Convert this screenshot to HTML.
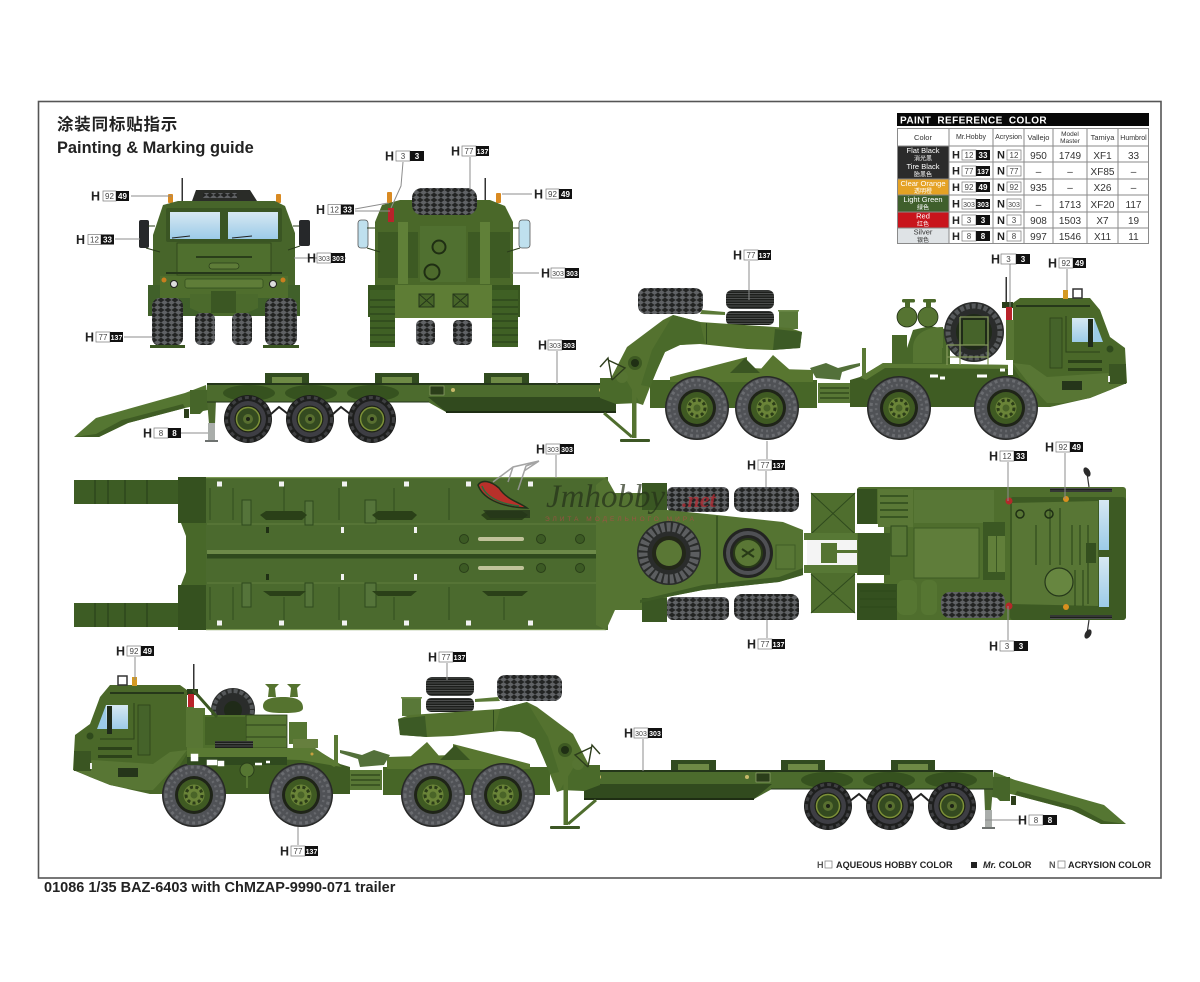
<!DOCTYPE html>
<html lang="en"><head><meta charset="utf-8"><title>BAZ-6403 Painting guide</title>
<style>
html,body{margin:0;padding:0;background:#fff}
svg{display:block;font-family:"Liberation Sans","Noto Sans CJK SC",sans-serif}
.h{font-size:12.5px;font-weight:700;fill:#222}
.w{fill:#fff;stroke:#777;stroke-width:.7}
.k{fill:#111}
.nw{font-size:8px;fill:#444;text-anchor:middle}
.nk{font-size:8px;font-weight:700;fill:#fff;text-anchor:middle}
.ld{stroke:#8c8c8c;stroke-width:1;fill:none}
.th{font-size:7.5px;fill:#333;text-anchor:middle}
.td{font-size:10px;fill:#333;text-anchor:middle}
.tc{font-size:7.5px;text-anchor:middle;fill:#fff}
.leg{font-size:9.1px;font-weight:700;fill:#222}
</style></head><body>
<svg width="1200" height="982" viewBox="0 0 1200 982" xmlns="http://www.w3.org/2000/svg">
<defs>
<pattern id="tread" width="7" height="5" patternUnits="userSpaceOnUse"><rect width="7" height="5" fill="#232423"/><path d="M0 2.5 3.5 0 7 2.5 3.5 5Z" fill="#606265"/></pattern>
<pattern id="tr2" width="5" height="5" patternUnits="userSpaceOnUse"><rect width="5" height="5" fill="#1d1f1c"/><path d="M0 1h5M0 3.5h5" stroke="#4d4f4e" stroke-width=".9"/></pattern>
<linearGradient id="gl" x1="0" y1="0" x2="0" y2="1"><stop offset="0" stop-color="#d6e8f2"/><stop offset="1" stop-color="#9ccbe8"/></linearGradient>
<g id="wL">
<circle r="32" fill="#282928"/>
<circle r="30.500" fill="#505256"/>
<circle r="28" fill="none" stroke="#6a6c70" stroke-width="3" stroke-dasharray="3 3"/>
<circle r="23" fill="none" stroke="#66686c" stroke-width="2.500" stroke-dasharray="2 3"/>
<circle r="19" fill="#1f2418"/>
<circle r="16" fill="#3f5a22"/>
<circle r="10.500" fill="#6a8438"/>
<circle r="8" fill="none" stroke="#2c3d18" stroke-width="3" stroke-dasharray="3 2.500"/>
<circle r="3.500" fill="#4a6428"/>
</g>
<g id="wS">
<circle r="24" fill="#1e1f1e"/>
<circle r="21.500" fill="none" stroke="#3f4042" stroke-width="3" stroke-dasharray="4 3"/>
<circle r="18" fill="#3e3e44"/>
<circle r="13.500" fill="#1d2216"/>
<circle r="11.500" fill="#344a20" stroke="#7d9138" stroke-width="1.500"/>
<circle r="5" fill="#586f30"/>
<circle r="2" fill="#1d2216"/>
</g>
<g id="rig">
<!-- trailer -->
<path d="M74 437 96 418 185 393 206 385 208 403 185 408 128 423 99 437Z" fill="#557632"/>
<path d="M74 437 99 437 128 423 185 408 183 404 122 420 96 434Z" fill="#3f5c24"/>
<path d="M190 390h18v20l-5 1-3 3h-10Z" fill="#466529"/>
<path d="M184 409h5v9h-5Z" fill="#2d3f1b"/>
<path d="M207 400h9l-1 24h-6Z" fill="#4d6a2f"/>
<rect x="208" y="423" width="7" height="17" fill="#a9adaa"/>
<rect x="205" y="440" width="13" height="2" fill="#6e7270"/>
<path d="M207 384H616V412H446L428 402H207Z" fill="#4c6b2d"/>
<rect x="207" y="383" width="409" height="2" fill="#24361a"/>
<rect x="207" y="401.500" width="222" height="1" fill="#22331a"/>
<path d="M428 397H616V412H446Z" fill="#314a1e"/>
<path d="M446 411H616V413H446Z" fill="#1e2d13"/>
<rect x="265" y="373" width="44" height="10" fill="#314b1f"/><rect x="375" y="373" width="44" height="10" fill="#314b1f"/><rect x="484" y="373" width="45" height="10" fill="#314b1f"/>
<g fill="#6e8a45"><rect x="272" y="377" width="30" height="6"/><rect x="382" y="377" width="30" height="6"/><rect x="491" y="377" width="31" height="6"/></g>
<g fill="#36521f"><ellipse cx="249" cy="393" rx="26" ry="8"/><ellipse cx="311" cy="393" rx="26" ry="8"/><ellipse cx="373" cy="393" rx="26" ry="8"/></g>
<path d="M271 414 279 407 288 414M333 414 341 407 350 414" fill="none" stroke="#222" stroke-width="2"/>
<rect x="430" y="386" width="14" height="9" fill="#2b3e1a" stroke="#9fb07a" stroke-width=".6"/>
<circle cx="453" cy="390" r="2" fill="#c8b96a"/><circle cx="601" cy="390" r="2" fill="#c8b96a"/>
<use href="#wS" x="248" y="419"/><use href="#wS" x="310" y="419"/><use href="#wS" x="372" y="419"/>
<!-- tractor chassis -->
<rect x="650" y="380" width="167" height="28" fill="#476627"/>
<path d="M670 377 747 357 747 368 813 370 813 382 670 382Z" fill="#587630"/>
<path d="M730 373 745 358 760 373Z" fill="#3a5522"/>
<rect x="818" y="383" width="32" height="20" fill="#587735"/>
<path d="M820 388h29M820 393h29M820 398h29" stroke="#2c4219" stroke-width="1.200"/>
<path d="M850 380 860 377 883 363 1013 365 1040 375 1060 396 1050 407H850Z" fill="#3f5c23"/>
<path d="M860 377 883 363 1013 365V369L885 368 866 380Z" fill="#5a7933"/>
<!-- cab -->
<path d="M1013 303 1020 298H1090L1100 310 1110 337 1125 348 1127 383 1110 390 1090 398 1050 407 1037 407 1020 378 1013 367Z" fill="#4a6829"/>
<path d="M1013 363 1030 365 1047 377 1108 373 1125 383 1110 390 1090 398 1063 403 1047 403 1030 385Z" fill="#587634"/>
<rect x="1016" y="305" width="74" height="2" fill="#26381a"/>
<rect x="1072" y="318" width="22" height="24" fill="url(#gl)"/><path d="M1094 318 1103 342H1094Z" fill="#9ccbe8"/>
<rect x="1088" y="319" width="5" height="28" fill="#1f2a1a"/>
<rect x="1050" y="318" width="12" height="50" fill="#45632a" stroke="#2c4219" stroke-width=".8"/>
<path d="M1066 316V352H1100" fill="none" stroke="#2c4219" stroke-width="1"/>
<rect x="1068" y="360" width="34" height="3" fill="#2c4219"/>
<rect x="1068" y="368" width="34" height="3" fill="#2c4219"/>
<rect x="1062" y="381" width="20" height="9" fill="#25351a"/>
<rect x="1109" y="364" width="17" height="20" fill="#3a5522"/>
<circle cx="1110" cy="349" r="3.500" fill="#2f4a1c"/>
<rect x="1108" y="376" width="2" height="6" fill="#eee"/>
<rect x="1063" y="290" width="5" height="9" fill="#d49a22"/>
<rect x="1073" y="289" width="9" height="9" fill="none" stroke="#333" stroke-width="1.500"/>
<rect x="1005.500" y="277" width="1.500" height="26" fill="#333"/>
<rect x="1002" y="302" width="11" height="6" fill="#2a3e1a"/>
<rect x="1006" y="307" width="6" height="13" fill="#b9232a"/>
<rect x="1006" y="320" width="8" height="40" fill="#587634"/>
<rect x="1008" y="360" width="5" height="15" fill="#fff"/>
<!-- gooseneck -->
<path d="M773 355 790 370H760Z" fill="#587630"/>
<path d="M810 368 826 363 838 368 850 365 860 363V366L842 372 840 380 816 378Z" fill="#53703a"/>
<path d="M862 348h4v30h-4Z" fill="#5a7935"/>
<use href="#wL" x="697" y="408"/><use href="#wL" x="767" y="408"/><use href="#wL" x="899" y="408"/><use href="#wL" x="1006" y="408"/>
<rect x="638" y="288" width="65" height="26" rx="8" fill="url(#tread)"/>
<rect x="726" y="290" width="48" height="19" rx="6" fill="url(#tr2)"/>
<rect x="726" y="311" width="48" height="14" rx="5" fill="url(#tr2)"/>
<rect x="779" y="310" width="19" height="19" fill="#597838"/>
<rect x="778" y="310" width="21" height="1.500" fill="#6f8b4b"/>
<path d="M702 310 725 312V315L700 314Z" fill="#5b7a37"/>
<path d="M610 380 627 347 643 335 663 320 673 315 700 322 790 328 802 332 800 348 773 350 747 349 700 344 680 345 665 352 657 370 650 387 643 405 637 403 617 392Z" fill="#54722f"/>
<path d="M775 329 802 332 800 348 773 350Z" fill="#3c5a25"/>
<path d="M673 315 700 322 705 343 680 345 665 352 657 370 650 387 641 385 652 350Z" fill="#4a6a2a"/>
<rect x="706" y="323" width="1" height="21" fill="#2f4a1c"/>
<path d="M600 378H625L640 403 616 404 600 398Z" fill="#4a6a2a"/>
<circle cx="635" cy="363" r="7" fill="#3d5922"/><circle cx="635" cy="363" r="4" fill="#1f2f14"/>
<circle cx="622" cy="377" r="6" fill="#567432"/>
<path d="M600 367 608 358 612 380M608 360 625 368 612 380" fill="none" stroke="#2d3d1c" stroke-width="1.400"/>
<rect x="632" y="373" width="4.500" height="65" fill="#54722f"/>
<path d="M604 413 632 437" stroke="#4f6d2e" stroke-width="3"/>
<rect x="620" y="439" width="30" height="3" rx="1" fill="#3c5624"/>
</g>
</defs>
<rect width="1200" height="982" fill="#fff"/>
<rect x="38.500" y="101.500" width="1122.500" height="776.500" fill="#fff" stroke="#555" stroke-width="1.600"/>
<text x="57" y="130" font-size="16.500" font-weight="700" fill="#222" letter-spacing=".8">涂装同标贴指示</text>
<text x="57" y="153" font-size="16.400" font-weight="700" fill="#222">Painting &amp; Marking guide</text>
<text x="44" y="892" font-size="14.500" font-weight="700" fill="#222">01086 1/35 BAZ-6403 with ChMZAP-9990-071 trailer</text>

<!-- FRONT VIEW -->
<rect x="181.500" y="178" width="1.500" height="24" fill="#333"/>
<path d="M192 201 196 190H250L257 201Z" fill="#2a2c28"/><rect x="203" y="193" width="34" height="5" fill="url(#tread)"/>
<rect x="168" y="194" width="5" height="9" rx="1" fill="#d98a22"/><rect x="276" y="194" width="5" height="9" rx="1" fill="#d98a22"/>
<path d="M163 205 178 201H275L285 206 295 233V285H153V235Z" fill="#47652a"/>
<rect x="166" y="208" width="116" height="34" rx="2" fill="#3a5523"/>
<rect x="170" y="212" width="50" height="27" fill="url(#gl)"/><rect x="228" y="212" width="50" height="27" fill="url(#gl)"/>
<path d="M172 238 190 236M232 238 252 236" stroke="#222" stroke-width="1"/>
<rect x="177" y="243" width="94" height="32" fill="#4f6f2e" stroke="#2c4219" stroke-width=".8"/>
<rect x="196" y="256" width="56" height="2" fill="#2a3e1a"/>
<rect x="209" y="263" width="30" height="6" rx="3" fill="#5e7c38" stroke="#2a3e1a" stroke-width=".7"/>
<rect x="166" y="272" width="116" height="2" fill="#25371a"/>
<rect x="148" y="285" width="152" height="31" fill="#40602a"/>
<rect x="160" y="276" width="128" height="22" fill="#4f6e2d"/>
<rect x="185" y="279" width="78" height="9" rx="2" fill="#5f7d38" stroke="#2f4a1c" stroke-width=".7"/>
<circle cx="174" cy="284" r="3.500" fill="#ddd" stroke="#222"/><circle cx="273" cy="284" r="3.500" fill="#ddd" stroke="#222"/>
<circle cx="164" cy="280" r="2.500" fill="#c97e1f"/><circle cx="283" cy="280" r="2.500" fill="#c97e1f"/>
<path d="M190 294H258V308L240 316H208L190 308Z" fill="#4b6a2c"/>
<rect x="211" y="291" width="25" height="22" fill="#3b5723"/>
<rect x="195" y="313" width="20" height="32" rx="6" fill="url(#tread)"/><rect x="232" y="313" width="20" height="32" rx="6" fill="url(#tread)"/>
<rect x="152" y="298" width="31" height="48" rx="8" fill="url(#tread)"/><rect x="265" y="298" width="32" height="48" rx="8" fill="url(#tread)"/>
<rect x="150" y="345" width="35" height="3" fill="#3a5522"/><rect x="263" y="345" width="36" height="3" fill="#3a5522"/>
<rect x="139" y="220" width="10" height="28" rx="2" fill="#26282a"/><rect x="299" y="220" width="11" height="26" rx="2" fill="#26282a"/>
<path d="M148 226H155M293 226H299M146 248 160 252M300 246 288 250" stroke="#2b3d1b" stroke-width="1"/>

<!-- REAR VIEW -->
<rect x="484.500" y="178" width="1.500" height="24" fill="#333"/>
<rect x="387" y="192" width="5" height="11" rx="1" fill="#d98a22"/><rect x="496" y="193" width="5" height="10" rx="1" fill="#d98a22"/>
<path d="M382 205 400 200H490L505 206 513 222V286H375V222Z" fill="#4a6829"/>
<rect x="412" y="188" width="65" height="27" rx="10" fill="url(#tread)"/>
<rect x="388" y="208" width="6" height="14" fill="#b9232a"/>
<rect x="378" y="232" width="40" height="46" fill="#3d5a23"/><rect x="468" y="232" width="42" height="46" fill="#3d5a23"/>
<rect x="398" y="222" width="10" height="62" fill="#608038"/><rect x="480" y="222" width="10" height="62" fill="#608038"/>
<rect x="420" y="226" width="46" height="56" fill="#507030"/>
<circle cx="439" cy="247" r="6.500" fill="#4d6a2c" stroke="#1f2e13" stroke-width="2"/>
<circle cx="432" cy="272" r="7.500" fill="#4d6a2c" stroke="#1f2e13" stroke-width="2"/>
<rect x="416" y="320" width="19" height="25" rx="5" fill="url(#tread)"/><rect x="453" y="320" width="19" height="25" rx="5" fill="url(#tread)"/>
<rect x="395" y="285" width="97" height="33" fill="#5e7d35"/>
<rect x="419" y="294" width="15" height="13" fill="#486629" stroke="#25371a"/><rect x="453" y="294" width="15" height="13" fill="#486629" stroke="#25371a"/>
<path d="M419 294 434 307M434 294 419 307M453 294 468 307M468 294 453 307" stroke="#25371a"/>
<rect x="368" y="285" width="27" height="32" fill="#37551f"/><rect x="492" y="285" width="28" height="32" fill="#37551f"/>
<rect x="370" y="290" width="25" height="57" fill="#3f6024"/><rect x="492" y="290" width="26" height="57" fill="#3f6024"/>
<path d="M370 300h25M370 307h25M370 314h25M370 321h25M370 328h25M370 335h25M370 342h25M492 300h26M492 307h26M492 314h26M492 321h26M492 328h26M492 335h26M492 342h26" stroke="#2b441a" stroke-width="1.200"/>
<rect x="358" y="220" width="10" height="28" rx="3" fill="#bfe0ee" stroke="#555" stroke-width=".8"/><rect x="519" y="220" width="11" height="28" rx="3" fill="#bfe0ee" stroke="#555" stroke-width=".8"/>
<path d="M367 228H375M513 228H519M367 248 380 252M520 248 507 252" stroke="#2b3d1b" stroke-width="1"/>

<!-- SIDE 1 -->
<use href="#rig"/>
<path d="M892 335H907V348L913 330 930 326 950 330V364H892Z" fill="#486729"/>
<path d="M913 348C913 335 925 327 943 327V348Z" fill="#567532"/>
<rect x="913" y="348" width="29" height="15" fill="#567532"/>
<circle cx="907" cy="317" r="10" fill="#567432" stroke="#1f2e13" stroke-width=".8"/><circle cx="928" cy="317" r="10" fill="#567432" stroke="#1f2e13" stroke-width=".8"/>
<rect x="902" y="299" width="13" height="3.500" rx="1.500" fill="#4a6829"/><rect x="923" y="299" width="13" height="3.500" rx="1.500" fill="#4a6829"/>
<rect x="905" y="302" width="5" height="6" fill="#4a6829"/><rect x="926" y="302" width="5" height="6" fill="#4a6829"/>
<circle cx="974" cy="332" r="30" fill="#2a2c2b"/><circle cx="974" cy="332" r="26" fill="none" stroke="#55585a" stroke-width="5" stroke-dasharray="4 2"/><circle cx="974" cy="332" r="18" fill="#1f2a18"/>
<rect x="963" y="320" width="22" height="25" fill="#46632a"/>
<path d="M960 317H988V365M960 317V365M947 345H988M947 345V365M947 357H988" fill="none" stroke="#83985a" stroke-width="1.300"/>
<path d="M930 376h8M940 378h5M977 376h10M1000 370h5" stroke="#fff" stroke-width="3"/>

<!-- SIDE 2 -->
<use href="#rig" transform="translate(1200,387) scale(-1,1)"/>
<circle cx="233" cy="710" r="22" fill="#2a2c2b"/><circle cx="233" cy="710" r="19" fill="none" stroke="#55585a" stroke-width="4" stroke-dasharray="4 2"/><circle cx="233" cy="710" r="9" fill="#1f2a18"/>
<path d="M263 706C263 699 272 697 283 697 296 697 303 700 303 708 303 712 296 713 284 713 270 713 263 712 263 706Z" fill="#55732f"/>
<path d="M265 684H279L275 688 276 697H268L269 688ZM287 684H301L297 688 298 697H290L291 688Z" fill="#55732f"/>
<rect x="187" y="708" width="18" height="40" fill="#587634"/>
<rect x="203" y="715" width="84" height="33" fill="#4f6f2c"/>
<path d="M205 717H245V745H205Z" fill="#436125"/>
<rect x="246" y="715" width="41" height="33" fill="#567632" stroke="#2c4219" stroke-width=".8"/>
<path d="M246 725h40M246 737h40" stroke="#2c4219"/>
<rect x="215" y="741" width="38" height="7" fill="url(#tr2)"/>
<rect x="289" y="722" width="18" height="22" fill="#567632"/>
<rect x="293" y="739" width="25" height="9" fill="#667f3e"/>
<path d="M193 690 217 717" stroke="#3b5722" stroke-width="3"/>
<path d="M187 748H315L342 767 300 760 187 757Z" fill="#5a7933"/>
<rect x="187" y="757" width="100" height="8" fill="#2f491e"/>
<path d="M192 755h5v5h-5ZM208 761h8v3h-8ZM219 762h4v3h-4ZM255 764h7M266 762h4" stroke="#fff" stroke-width="2.500" fill="#fff"/>
<circle cx="247" cy="770" r="7" fill="#567632" stroke="#2a3e1a"/><rect x="246" y="776" width="2" height="12" fill="#567632"/>
<circle cx="312" cy="754" r="1.500" fill="#c8a040"/>

<!-- TOP VIEW -->
<rect x="667" y="487" width="62" height="25" rx="6" fill="url(#tread)"/><rect x="734" y="487" width="65" height="25" rx="8" fill="url(#tread)"/>
<rect x="667" y="597" width="62" height="23" rx="6" fill="url(#tread)"/><rect x="734" y="594" width="65" height="26" rx="8" fill="url(#tread)"/>
<rect x="74" y="480" width="104" height="24" fill="#3d5c24"/><rect x="74" y="603" width="104" height="24" fill="#3d5c24"/>
<path d="M95 480v24M108 480v24M125 480v24M147 480v24M95 603v24M108 603v24M125 603v24M147 603v24" stroke="#2a421a" stroke-width="1.200"/>
<path d="M178 477H206V523H178ZM178 585H206V630H178Z" fill="#35511f"/>
<path d="M181 523H206V585H181L186 572V536Z" fill="#486829"/>
<rect x="206" y="477" width="402" height="153" fill="#4b6a2e"/>
<rect x="206" y="477" width="400" height="1.200" fill="#7c9a55"/><rect x="206" y="629" width="400" height="1.200" fill="#7c9a55"/>
<rect x="207" y="550" width="400" height="4" fill="#6d8a49"/><rect x="207" y="554" width="400" height="4.500" fill="#2f4a1d"/>
<path d="M207 524H606M207 583H606" stroke="#607f3d" stroke-width="1"/>
<path d="M210 488V520M233 488V520M339 488V520M449 488V520M210 587V620M233 587V620M339 587V620M449 587V620M284 486V516M394 488V516M284 597V620M394 597V620M504 597V620" stroke="#2f4a1d" stroke-width=".9"/>
<g fill="#55743a" stroke="#2f4a1d"><rect x="242" y="500" width="9" height="25"/><rect x="305" y="501" width="8" height="24"/><rect x="365" y="500" width="11" height="23"/><rect x="242" y="583" width="9" height="24"/><rect x="305" y="583" width="8" height="24"/><rect x="365" y="583" width="11" height="24"/></g>
<g fill="#2a4018"><path d="M260 515 266 511H302L307 515 302 520H266Z"/><path d="M372 515 378 511H412L417 515 412 520H378Z"/><path d="M481 515 487 511H522L528 515 522 520H487Z"/><path d="M263 591H306L300 596H270Z"/><path d="M372 591H417L411 596H378Z"/><path d="M482 591H528L522 596H488Z"/></g>
<g fill="#c0c29a"><rect x="478" y="537" width="46" height="4" rx="2"/><rect x="478" y="566" width="46" height="4" rx="2"/></g>
<g fill="#3c5a24" stroke="#2a3f19"><circle cx="464" cy="539" r="4.500"/><circle cx="541" cy="539" r="4.500"/><circle cx="580" cy="539" r="4.500"/><circle cx="464" cy="568" r="4.500"/><circle cx="541" cy="568" r="4.500"/><circle cx="580" cy="568" r="4.500"/></g>
<g fill="#f2f2f2"><rect x="217" y="481.500" width="5" height="5"/><rect x="279" y="481.500" width="5" height="5"/><rect x="342" y="481.500" width="5" height="5"/><rect x="404" y="481.500" width="5" height="5"/><rect x="466" y="481.500" width="5" height="5"/><rect x="528" y="481.500" width="5" height="5"/><rect x="217" y="620.500" width="5" height="5"/><rect x="279" y="620.500" width="5" height="5"/><rect x="342" y="620.500" width="5" height="5"/><rect x="404" y="620.500" width="5" height="5"/><rect x="466" y="620.500" width="5" height="5"/><rect x="528" y="620.500" width="5" height="5"/><rect x="341" y="527" width="3" height="6"/><rect x="414" y="527" width="3" height="6"/><rect x="341" y="574" width="3" height="6"/><rect x="414" y="574" width="3" height="6"/></g>
<rect x="266" y="527" width="3" height="6" fill="#1f2f14"/><rect x="266" y="574" width="3" height="6" fill="#1f2f14"/>
<path d="M606 477 615 493H642V483H667V510L717 515 783 522 803 530V575L779 582 703 590 667 597V622H642V610H615L606 630 596 625V485Z" fill="#557432"/>
<path d="M642 483H667V510H642ZM642 598H667V622H642Z" fill="#3a5723"/>
<path d="M640 600 703 585 779 577 803 568V575L779 582 703 590 667 597 640 603Z" fill="#3e5c25"/>
<rect x="716" y="516" width="2" height="72" fill="#3a5723"/>
<circle cx="669" cy="553" r="32" fill="#2a2c2b"/><circle cx="669" cy="553" r="26" fill="none" stroke="#5c5e60" stroke-width="9" stroke-dasharray="4 2"/><circle cx="669" cy="553" r="17" fill="#232719"/><circle cx="669" cy="553" r="13" fill="#5a7735"/>
<circle cx="748" cy="553" r="25" fill="#232422"/><circle cx="748" cy="553" r="20" fill="none" stroke="#4f5054" stroke-width="4"/><circle cx="748" cy="553" r="14" fill="#5a7735" stroke="#283a17" stroke-width="2"/>
<path d="M742 549 754 557M742 557 754 549" stroke="#283a17" stroke-width="2"/>
<rect x="776" y="545" width="19" height="24" fill="#587735" stroke="#3f5c25"/>
<rect x="811" y="493" width="44" height="120" fill="#4f6e2e"/>
<path d="M811 493 855 534M855 493 811 534M811 574 855 613M855 574 811 613" stroke="#2f4a1d"/>
<rect x="804" y="533" width="60" height="7" fill="#577835"/><rect x="804" y="565" width="60" height="8" fill="#577835"/>
<rect x="807" y="540" width="62" height="25" fill="#f4f4f4"/>
<rect x="821" y="543" width="16" height="20" fill="#557432"/><rect x="835" y="550" width="35" height="3" fill="#557432"/>
<rect x="857" y="487" width="269" height="133" rx="3" fill="#4f6e2d"/>
<rect x="857" y="524" width="27" height="9" fill="#fff"/><rect x="857" y="575" width="27" height="8" fill="#fff"/>
<path d="M858 533H890V575H858Z" fill="#3d5a24"/>
<rect x="857" y="489" width="20" height="35" fill="#34501f"/><rect x="857" y="584" width="40" height="36" fill="#34501f"/>
<rect x="878" y="489" width="35" height="38" fill="#5a7836"/>
<path d="M880 496h28M880 503h28M880 510h28M880 517h28M860 591h36M860 599h36M860 607h36" stroke="#2e4a1c" stroke-width="1.500"/>
<rect x="914" y="490" width="80" height="33" fill="#587736"/>
<rect x="891" y="526" width="16" height="30" fill="#587736" stroke="#2e4a1c"/>
<rect x="914" y="528" width="65" height="50" fill="#5f7d3a" stroke="#3d5a24"/>
<rect x="983" y="522" width="22" height="58" fill="#3b5823"/>
<rect x="988" y="536" width="8" height="36" fill="#617f3a"/><rect x="997" y="536" width="8" height="36" fill="#617f3a"/>
<rect x="897" y="580" width="20" height="35" rx="7" fill="#567632"/><rect x="921" y="580" width="16" height="35" rx="6" fill="#567632"/>
<rect x="941" y="592" width="64" height="26" rx="9" fill="url(#tread)"/>
<rect x="1010" y="497" width="116" height="123" rx="3" fill="#3d5a23"/>
<path d="M1012 503 1098 501V606L1012 604Z" fill="#587635"/>
<rect x="1099" y="500" width="10" height="50" fill="url(#gl)"/><rect x="1099" y="557" width="10" height="50" fill="url(#gl)"/>
<path d="M1050 508V565M1060 508V565M1072 525V565M1080 525V565M1088 525V604M1075 570V606M1083 570V606M1036 525V565" stroke="#344f1f" stroke-width="1.300"/>
<rect x="1086" y="543" width="10" height="20" fill="#344f1f"/>
<circle cx="1059" cy="582" r="14" fill="#678640" stroke="#25371a" stroke-width="1.200"/>
<circle cx="1020" cy="514" r="4" fill="none" stroke="#1f2f14" stroke-width="1.500"/><circle cx="1049" cy="514" r="4" fill="none" stroke="#1f2f14" stroke-width="1.500"/>
<rect x="1050" y="488" width="62" height="4" fill="url(#tr2)"/><rect x="1050" y="615" width="62" height="4" fill="url(#tr2)"/>
<circle cx="1009" cy="501" r="3.500" fill="#b32a2a"/><circle cx="1009" cy="606" r="3.500" fill="#b32a2a"/>
<circle cx="1066" cy="499" r="3" fill="#d9901f"/><circle cx="1066" cy="607" r="3" fill="#d9901f"/>
<path d="M1089 487 1087 473" stroke="#333" stroke-width="1.200"/><path d="M1089 620 1087 634" stroke="#333" stroke-width="1.200"/>
<ellipse cx="1087" cy="472" rx="3" ry="5" fill="#2a2a2a" transform="rotate(-30 1087 472)"/><ellipse cx="1088" cy="634" rx="3" ry="5" fill="#2a2a2a" transform="rotate(30 1088 634)"/>

<!-- WATERMARK -->
<path d="M478 485C482 497 498 507 527 508 519 502 507 500 499 488 491 481 482 479 478 485Z" fill="#b8302a" stroke="#20301a" stroke-width="1.500"/>
<path d="M482 486C486 497 500 504 519 506" fill="none" stroke="#2f6a3a" stroke-width="1.500"/>
<path d="M493 482 513 467 539 461 526 466 518 490M508 482 513 467M539 461 524 471" fill="none" stroke="#9a9a9a" stroke-width="1.500" opacity=".9"/>
<path d="M483 510H530V518H490Z" fill="#25361a" opacity=".8"/>
<text x="546" y="507" font-family="Liberation Serif,serif" font-style="italic" font-size="33" fill="#243019" opacity=".7">Jmhobby</text>
<text x="682" y="507" font-family="Liberation Serif,serif" font-style="italic" font-weight="700" font-size="22" fill="#b52a32" opacity=".75">.net</text>
<text x="545" y="521" font-size="6.500" letter-spacing="3" fill="#b8484a" opacity=".7">ЭЛИТА МОДЕЛЬНОГО МИРА</text>

<!-- LEADERS -->
<g class="ld">
<path d="M131 196H172M115 239H140M346 258H294M124 337H152"/>
<path d="M403 162 401 186 391 208M470 157V190M355 209 388 203M355 211 390 211M532 194H502M539 273H512"/>
<path d="M557 351V384M749 261V300M1010 264V307M1067 269V290M181 433H208"/>
<path d="M556 455V478M766 471V487M767 441V459M1008 462V501M1065 453V499M767 620V638M1008 606V640"/>
<path d="M135 657V680M447 663V680M643 739V771M1019 820H985M298 827V845"/>
</g>

<!-- CALLOUTS -->
<g transform="translate(91,196)"><text class="h" y="4.500">H</text><rect class="w" x="12" y="-5" width="13" height="10"/><rect class="k" x="25" y="-5" width="13" height="10"/><text class="nw" x="18.500" y="3">92</text><text class="nk" x="31.500" y="3">49</text></g>
<g transform="translate(76,239.500)"><text class="h" y="4.500">H</text><rect class="w" x="12" y="-5" width="13" height="10"/><rect class="k" x="25" y="-5" width="13" height="10"/><text class="nw" x="18.500" y="3">12</text><text class="nk" x="31.500" y="3">33</text></g>
<g transform="translate(307,258)"><text class="h" y="4.500">H</text><rect class="w" x="10" y="-5" width="14" height="10"/><rect class="k" x="24" y="-5" width="14" height="10"/><text class="nw" x="17" y="3" style="font-size:7px">303</text><text class="nk" x="31" y="3" style="font-size:7px">303</text></g>
<g transform="translate(85,337)"><text class="h" y="4.500">H</text><rect class="w" x="11" y="-5" width="14" height="10"/><rect class="k" x="25" y="-5" width="13" height="10"/><text class="nw" x="18" y="3">77</text><text class="nk" x="31.500" y="3" style="font-size:7px">137</text></g>
<g transform="translate(385,156)"><text class="h" y="4.500">H</text><rect class="w" x="11" y="-5" width="14" height="10"/><rect class="k" x="25" y="-5" width="14" height="10"/><text class="nw" x="18" y="3">3</text><text class="nk" x="32" y="3">3</text></g>
<g transform="translate(451,151)"><text class="h" y="4.500">H</text><rect class="w" x="11" y="-5" width="14" height="10"/><rect class="k" x="25" y="-5" width="13" height="10"/><text class="nw" x="18" y="3">77</text><text class="nk" x="31.500" y="3" style="font-size:7px">137</text></g>
<g transform="translate(316,209.500)"><text class="h" y="4.500">H</text><rect class="w" x="12" y="-5" width="13" height="10"/><rect class="k" x="25" y="-5" width="13" height="10"/><text class="nw" x="18.500" y="3">12</text><text class="nk" x="31.500" y="3">33</text></g>
<g transform="translate(534,194)"><text class="h" y="4.500">H</text><rect class="w" x="12" y="-5" width="13" height="10"/><rect class="k" x="25" y="-5" width="13" height="10"/><text class="nw" x="18.500" y="3">92</text><text class="nk" x="31.500" y="3">49</text></g>
<g transform="translate(541,273)"><text class="h" y="4.500">H</text><rect class="w" x="10" y="-5" width="14" height="10"/><rect class="k" x="24" y="-5" width="14" height="10"/><text class="nw" x="17" y="3" style="font-size:7px">303</text><text class="nk" x="31" y="3" style="font-size:7px">303</text></g>
<g transform="translate(538,345)"><text class="h" y="4.500">H</text><rect class="w" x="10" y="-5" width="14" height="10"/><rect class="k" x="24" y="-5" width="14" height="10"/><text class="nw" x="17" y="3" style="font-size:7px">303</text><text class="nk" x="31" y="3" style="font-size:7px">303</text></g>
<g transform="translate(733,255)"><text class="h" y="4.500">H</text><rect class="w" x="11" y="-5" width="14" height="10"/><rect class="k" x="25" y="-5" width="13" height="10"/><text class="nw" x="18" y="3">77</text><text class="nk" x="31.500" y="3" style="font-size:7px">137</text></g>
<g transform="translate(991,259)"><text class="h" y="4.500">H</text><rect class="w" x="10" y="-5" width="15" height="10"/><rect class="k" x="25" y="-5" width="14" height="10"/><text class="nw" x="17.500" y="3">3</text><text class="nk" x="32" y="3">3</text></g>
<g transform="translate(1048,263)"><text class="h" y="4.500">H</text><rect class="w" x="11" y="-5" width="14" height="10"/><rect class="k" x="25" y="-5" width="13" height="10"/><text class="nw" x="18" y="3">92</text><text class="nk" x="31.500" y="3">49</text></g>
<g transform="translate(143,433)"><text class="h" y="4.500">H</text><rect class="w" x="11" y="-5" width="14" height="10"/><rect class="k" x="25" y="-5" width="13" height="10"/><text class="nw" x="18" y="3">8</text><text class="nk" x="31.500" y="3">8</text></g>
<g transform="translate(536,449)"><text class="h" y="4.500">H</text><rect class="w" x="10" y="-5" width="14" height="10"/><rect class="k" x="24" y="-5" width="14" height="10"/><text class="nw" x="17" y="3" style="font-size:7px">303</text><text class="nk" x="31" y="3" style="font-size:7px">303</text></g>
<g transform="translate(747,465)"><text class="h" y="4.500">H</text><rect class="w" x="11" y="-5" width="14" height="10"/><rect class="k" x="25" y="-5" width="13" height="10"/><text class="nw" x="18" y="3">77</text><text class="nk" x="31.500" y="3" style="font-size:7px">137</text></g>
<g transform="translate(989,456)"><text class="h" y="4.500">H</text><rect class="w" x="11" y="-5" width="14" height="10"/><rect class="k" x="25" y="-5" width="13" height="10"/><text class="nw" x="18" y="3">12</text><text class="nk" x="31.500" y="3">33</text></g>
<g transform="translate(1045,447)"><text class="h" y="4.500">H</text><rect class="w" x="11" y="-5" width="14" height="10"/><rect class="k" x="25" y="-5" width="13" height="10"/><text class="nw" x="18" y="3">92</text><text class="nk" x="31.500" y="3">49</text></g>
<g transform="translate(747,644)"><text class="h" y="4.500">H</text><rect class="w" x="11" y="-5" width="14" height="10"/><rect class="k" x="25" y="-5" width="13" height="10"/><text class="nw" x="18" y="3">77</text><text class="nk" x="31.500" y="3" style="font-size:7px">137</text></g>
<g transform="translate(989,646)"><text class="h" y="4.500">H</text><rect class="w" x="11" y="-5" width="14" height="10"/><rect class="k" x="25" y="-5" width="14" height="10"/><text class="nw" x="18" y="3">3</text><text class="nk" x="32" y="3">3</text></g>
<g transform="translate(116,651)"><text class="h" y="4.500">H</text><rect class="w" x="11" y="-5" width="14" height="10"/><rect class="k" x="25" y="-5" width="13" height="10"/><text class="nw" x="18" y="3">92</text><text class="nk" x="31.500" y="3">49</text></g>
<g transform="translate(428,657)"><text class="h" y="4.500">H</text><rect class="w" x="11" y="-5" width="14" height="10"/><rect class="k" x="25" y="-5" width="13" height="10"/><text class="nw" x="18" y="3">77</text><text class="nk" x="31.500" y="3" style="font-size:7px">137</text></g>
<g transform="translate(624,733)"><text class="h" y="4.500">H</text><rect class="w" x="10" y="-5" width="14" height="10"/><rect class="k" x="24" y="-5" width="14" height="10"/><text class="nw" x="17" y="3" style="font-size:7px">303</text><text class="nk" x="31" y="3" style="font-size:7px">303</text></g>
<g transform="translate(1018,820)"><text class="h" y="4.500">H</text><rect class="w" x="11" y="-5" width="14" height="10"/><rect class="k" x="25" y="-5" width="14" height="10"/><text class="nw" x="18" y="3">8</text><text class="nk" x="32" y="3">8</text></g>
<g transform="translate(280,851)"><text class="h" y="4.500">H</text><rect class="w" x="11" y="-5" width="14" height="10"/><rect class="k" x="25" y="-5" width="13" height="10"/><text class="nw" x="18" y="3">77</text><text class="nk" x="31.500" y="3" style="font-size:7px">137</text></g>

<!-- TABLE -->
<rect x="897" y="113" width="252" height="13" fill="#080808"/>
<text x="900" y="123.500" font-size="10" font-weight="700" fill="#fff" letter-spacing=".4" word-spacing="3">PAINT REFERENCE COLOR</text>
<rect x="897" y="128" width="52" height="116" fill="#fff"/>
<rect x="897" y="146" width="52" height="33" fill="#2b2b2b"/>
<rect x="897" y="179" width="52" height="16" fill="#e5a224"/>
<rect x="897" y="195" width="52" height="17" fill="#3f5f2c"/>
<rect x="897" y="212" width="52" height="16" fill="#c8141c"/>
<rect x="897" y="228" width="52" height="16" fill="#dfe3e6"/>
<g stroke="#8a8a8a" stroke-width="1" fill="none">
<rect x="897.500" y="128.500" width="251" height="115"/>
<path d="M949 128V244M993 128V244M1024 128V244M1053 128V244M1087 128V244M1118 128V244M897 146H1149M949 162H1149M897 179H1149M897 195H1149M897 212H1149M897 228H1149"/>
</g>
<text class="th" x="923" y="140">Color</text><text class="th" x="971" y="139" style="font-size:7px">Mr.Hobby</text><text class="th" x="1008.500" y="139" style="font-size:7px">Acrysion</text><text class="th" x="1038.500" y="140">Vallejo</text><text class="th" x="1070" y="136" style="font-size:6.500px">Model</text><text class="th" x="1070" y="143" style="font-size:6.500px">Master</text><text class="th" x="1102.500" y="140">Tamiya</text><text class="th" x="1133.500" y="140" style="font-size:7px">Humbrol</text>
<text class="tc" x="923" y="153">Flat Black</text><text class="tc" x="923" y="160.500" style="font-size:6px">消光黑</text>
<text class="tc" x="923" y="169">Tire Black</text><text class="tc" x="923" y="176.500" style="font-size:6px">胎黑色</text>
<text class="tc" x="923" y="186">Clear Orange</text><text class="tc" x="923" y="193" style="font-size:6px">透明橙</text>
<text class="tc" x="923" y="202">Light Green</text><text class="tc" x="923" y="209.500" style="font-size:6px">绿色</text>
<text class="tc" x="923" y="218.500">Red</text><text class="tc" x="923" y="226" style="font-size:6px">红色</text>
<text class="tc" x="923" y="234.500" style="fill:#333">Silver</text><text class="tc" x="923" y="242" style="font-size:6px;fill:#333">银色</text>
<g class="h" style="font-size:11px">
<text x="952" y="158.500">H</text><text x="952" y="174.500">H</text><text x="952" y="191">H</text><text x="952" y="207.500">H</text><text x="952" y="224">H</text><text x="952" y="240">H</text>
<text x="997" y="158.500">N</text><text x="997" y="174.500">N</text><text x="997" y="191">N</text><text x="997" y="207.500">N</text><text x="997" y="224">N</text><text x="997" y="240">N</text>
</g>
<g class="w"><rect x="962" y="150" width="14" height="10"/><rect x="962" y="166" width="14" height="10"/><rect x="962" y="182" width="14" height="10"/><rect x="962" y="199" width="14" height="10"/><rect x="962" y="215" width="14" height="10"/><rect x="962" y="231" width="14" height="10"/><rect x="1007" y="150" width="14" height="10"/><rect x="1007" y="166" width="14" height="10"/><rect x="1007" y="182" width="14" height="10"/><rect x="1007" y="199" width="14" height="10"/><rect x="1007" y="215" width="14" height="10"/><rect x="1007" y="231" width="14" height="10"/></g>
<g class="k"><rect x="976" y="150" width="14" height="10"/><rect x="976" y="166" width="14" height="10"/><rect x="976" y="182" width="14" height="10"/><rect x="976" y="199" width="14" height="10"/><rect x="976" y="215" width="14" height="10"/><rect x="976" y="231" width="14" height="10"/></g>
<g class="nw"><text x="969" y="158">12</text><text x="969" y="174">77</text><text x="969" y="190">92</text><text x="969" y="207" style="font-size:7px">303</text><text x="969" y="223">3</text><text x="969" y="239">8</text><text x="1014" y="158">12</text><text x="1014" y="174">77</text><text x="1014" y="190">92</text><text x="1014" y="207" style="font-size:7px">303</text><text x="1014" y="223">3</text><text x="1014" y="239">8</text></g>
<g class="nk"><text x="983" y="158">33</text><text x="983" y="174" style="font-size:7px">137</text><text x="983" y="190">49</text><text x="983" y="207" style="font-size:7px">303</text><text x="983" y="223">3</text><text x="983" y="239">8</text></g>
<g class="td">
<text x="1038.500" y="159">950</text><text x="1070" y="159">1749</text><text x="1102.500" y="159">XF1</text><text x="1133.500" y="159">33</text>
<text x="1038.500" y="175">–</text><text x="1070" y="175">–</text><text x="1102.500" y="175">XF85</text><text x="1133.500" y="175">–</text>
<text x="1038.500" y="191">935</text><text x="1070" y="191">–</text><text x="1102.500" y="191">X26</text><text x="1133.500" y="191">–</text>
<text x="1038.500" y="208">–</text><text x="1070" y="208">1713</text><text x="1102.500" y="208">XF20</text><text x="1133.500" y="208">117</text>
<text x="1038.500" y="224">908</text><text x="1070" y="224">1503</text><text x="1102.500" y="224">X7</text><text x="1133.500" y="224">19</text>
<text x="1038.500" y="240">997</text><text x="1070" y="240">1546</text><text x="1102.500" y="240">X11</text><text x="1133.500" y="240">11</text>
</g>

<!-- LEGEND -->
<text class="leg" x="817" y="868" style="fill:#555">H</text><rect class="w" x="825" y="861" width="7" height="7"/>
<text class="leg" x="836" y="868">AQUEOUS HOBBY COLOR</text>
<rect x="971" y="862" width="6" height="6" fill="#222"/>
<text class="leg" x="983" y="868"><tspan font-style="italic">Mr.</tspan> COLOR</text>
<text class="leg" x="1049" y="868" style="fill:#555">N</text><rect class="w" x="1058" y="861" width="7" height="7"/>
<text class="leg" x="1068" y="868">ACRYSION COLOR</text>
</svg>
</body></html>
